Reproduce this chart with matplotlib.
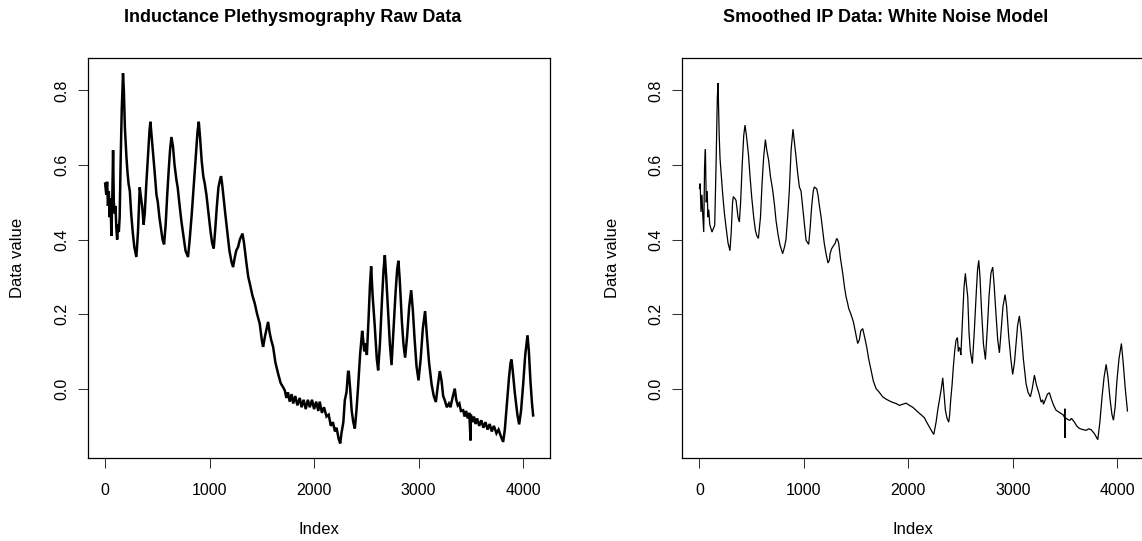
import numpy as np
import matplotlib
matplotlib.use('Agg')
from matplotlib import pyplot as plt

# Values (index, data value)

raw_index = [1, 12, 20, 28, 36, 44, 52, 61, 70, 77, 84, 92, 100, 108, 116, 124, 132, 140, 150, 160,
             172, 180, 190, 205, 215, 225, 237, 250, 265, 280, 300, 315, 332, 345, 355, 369, 380, 395,
             410, 425, 434, 445, 460, 475, 492, 505, 520, 535, 550, 565, 580, 595, 610, 622, 635, 650,
             665, 683, 695, 710, 730, 750, 770, 794, 810, 830, 850, 870, 885, 897, 910, 925, 940, 954,
             970, 990, 1010, 1025, 1040, 1055, 1070, 1085, 1100, 1110, 1120, 1135, 1150, 1170, 1190,
             1210, 1225, 1240, 1255, 1273, 1290, 1305, 1315, 1330, 1353, 1370, 1385, 1410, 1433, 1455,
             1480, 1500, 1512, 1530, 1545, 1560, 1575, 1590, 1608, 1630, 1656, 1680, 1703, 1720, 1735,
             1750, 1767, 1785, 1800, 1820, 1840, 1863, 1880, 1900, 1920, 1940, 1959, 1980, 2000, 2020,
             2040, 2054, 2075, 2095, 2119, 2140, 2160, 2180, 2200, 2215, 2235, 2250, 2262, 2280, 2294,
             2310, 2325, 2332, 2345, 2360, 2375, 2390, 2405, 2420, 2440, 2460, 2470, 2480, 2495, 2505,
             2520, 2535, 2546, 2560, 2580, 2600, 2613, 2630, 2650, 2665, 2677, 2690, 2710, 2725, 2741,
             2760, 2780, 2795, 2807, 2820, 2840, 2855, 2871, 2890, 2910, 2929, 2945, 2960, 2980, 2999,
             3020, 3040, 3062, 3080, 3100, 3125, 3145, 3165, 3185, 3203, 3220, 3235, 3250, 3270, 3290,
             3305, 3320, 3346, 3360, 3375, 3390, 3405, 3426, 3440, 3455, 3470, 3485, 3497, 3500, 3515,
             3530, 3545, 3560, 3580, 3600, 3620, 3640, 3660, 3680, 3700, 3720, 3745, 3765, 3790, 3809,
             3825, 3845, 3865, 3880, 3889, 3900, 3920, 3945, 3962, 3980, 4000, 4020, 4042, 4055, 4070,
             4085, 4096]
raw_value = [0.55, 0.52, 0.555, 0.49, 0.53, 0.46, 0.51, 0.41, 0.52, 0.64, 0.50, 0.47, 0.49, 0.43, 0.40,
             0.44, 0.42, 0.46, 0.62, 0.75, 0.846, 0.80, 0.70, 0.62, 0.58, 0.55, 0.53, 0.47, 0.42, 0.38,
             0.353, 0.42, 0.54, 0.51, 0.49, 0.44, 0.47, 0.55, 0.62, 0.69, 0.716, 0.68, 0.63, 0.58, 0.52,
             0.50, 0.46, 0.43, 0.40, 0.387, 0.44, 0.52, 0.59, 0.64, 0.675, 0.65, 0.60, 0.56, 0.54, 0.50,
             0.45, 0.41, 0.37, 0.353, 0.40, 0.47, 0.55, 0.63, 0.69, 0.716, 0.67, 0.61, 0.57, 0.55, 0.52,
             0.47, 0.42, 0.39, 0.376, 0.43, 0.49, 0.54, 0.56, 0.57, 0.55, 0.51, 0.47, 0.42, 0.37, 0.34,
             0.326, 0.35, 0.37, 0.38, 0.40, 0.41, 0.416, 0.39, 0.336, 0.30, 0.282, 0.25, 0.228, 0.20,
             0.174, 0.13, 0.112, 0.14, 0.16, 0.179, 0.15, 0.13, 0.112, 0.07, 0.04, 0.015, 0.004, -0.005,
             -0.025, -0.01, -0.035, -0.015, -0.04, -0.02, -0.045, -0.025, -0.05, -0.03, -0.055, -0.03,
             -0.05, -0.03, -0.055, -0.035, -0.06, -0.035, -0.065, -0.05, -0.075, -0.07, -0.10, -0.09,
             -0.115, -0.105, -0.135, -0.147, -0.12, -0.09, -0.031, -0.01, 0.045, 0.045, 0.0, -0.06,
             -0.09, -0.107, -0.06, 0.0, 0.09, 0.155, 0.13, 0.10, 0.121, 0.09, 0.18, 0.28, 0.328, 0.25,
             0.17, 0.08, 0.049, 0.12, 0.24, 0.32, 0.358, 0.30, 0.20, 0.12, 0.063, 0.16, 0.26, 0.32,
             0.343, 0.29, 0.18, 0.12, 0.083, 0.14, 0.22, 0.264, 0.21, 0.14, 0.06, 0.022, 0.08, 0.16,
             0.208, 0.14, 0.07, 0.01, -0.02, -0.036, 0.01, 0.047, 0.02, -0.02, -0.031, -0.05, -0.04,
             -0.05, -0.03, 0.0, -0.03, -0.045, -0.04, -0.06, -0.058, -0.075, -0.06, -0.08, -0.065,
             -0.139, -0.07, -0.09, -0.075, -0.095, -0.08, -0.10, -0.085, -0.105, -0.09, -0.11, -0.095,
             -0.115, -0.10, -0.12, -0.11, -0.13, -0.143, -0.11, -0.04, 0.03, 0.07, 0.078, 0.05, -0.01,
             -0.07, -0.096, -0.06, 0.01, 0.09, 0.143, 0.10, 0.02, -0.04, -0.072]

smooth_index = [1, 8, 16, 25, 32, 42, 50, 58, 66, 75, 82, 90, 100, 121, 135, 147, 160, 172, 179, 190,
                198, 210, 223, 240, 255, 275, 293, 305, 318, 325, 340, 351, 370, 383, 395, 410, 425,
                437, 450, 469, 485, 501, 520, 536, 550, 565, 585, 600, 615, 632, 645, 663, 680, 702,
                720, 734, 755, 772, 797, 815, 829, 845, 861, 878, 896, 910, 925, 940, 957, 973, 995,
                1010, 1021, 1046, 1060, 1075, 1090, 1100, 1123, 1135, 1148, 1165, 1180, 1195, 1212,
                1231, 1245, 1251, 1265, 1276, 1300, 1314, 1325, 1333, 1350, 1372, 1390, 1404, 1418,
                1429, 1450, 1474, 1495, 1515, 1530, 1545, 1563, 1580, 1601, 1620, 1643, 1665, 1691,
                1722, 1754, 1785, 1818, 1850, 1882, 1914, 1945, 1978, 2010, 2042, 2080, 2121, 2153,
                2175, 2201, 2225, 2243, 2265, 2285, 2297, 2315, 2329, 2340, 2354, 2370, 2386, 2395,
                2405, 2418, 2430, 2443, 2456, 2469, 2478, 2486, 2494, 2502, 2512, 2520, 2532, 2545,
                2555, 2568, 2580, 2593, 2612, 2630, 2650, 2662, 2673, 2685, 2700, 2718, 2737, 2755,
                2772, 2790, 2807, 2820, 2838, 2855, 2871, 2888, 2905, 2925, 2940, 2960, 2980, 2998,
                3015, 3030, 3045, 3062, 3080, 3100, 3126, 3145, 3167, 3185, 3206, 3225, 3250, 3270,
                3285, 3292, 3310, 3330, 3349, 3370, 3390, 3413, 3440, 3461, 3480, 3495, 3497, 3499,
                3501, 3525, 3545, 3560, 3589, 3610, 3636, 3670, 3700, 3725, 3748, 3780, 3812, 3832,
                3853, 3872, 3892, 3910, 3930, 3948, 3962, 3978, 3995, 4015, 4038, 4055, 4075, 4096]
smooth_value = [0.537, 0.55, 0.474, 0.52, 0.47, 0.42, 0.595, 0.642, 0.50, 0.53, 0.46, 0.48, 0.44,
                0.42, 0.43, 0.438, 0.60, 0.78, 0.82, 0.68, 0.617, 0.57, 0.523, 0.47, 0.434, 0.39,
                0.37, 0.42, 0.50, 0.515, 0.51, 0.505, 0.46, 0.447, 0.50, 0.60, 0.68, 0.707, 0.68,
                0.631, 0.57, 0.514, 0.46, 0.425, 0.41, 0.403, 0.46, 0.55, 0.62, 0.668, 0.64, 0.613,
                0.57, 0.532, 0.49, 0.45, 0.41, 0.385, 0.362, 0.38, 0.40, 0.46, 0.532, 0.64, 0.696,
                0.66, 0.622, 0.58, 0.541, 0.53, 0.469, 0.43, 0.398, 0.387, 0.43, 0.49, 0.53, 0.541,
                0.536, 0.52, 0.492, 0.46, 0.425, 0.39, 0.362, 0.337, 0.345, 0.362, 0.375, 0.38,
                0.39, 0.403, 0.398, 0.39, 0.35, 0.309, 0.27, 0.246, 0.23, 0.215, 0.20, 0.179, 0.15,
                0.121, 0.13, 0.155, 0.161, 0.14, 0.112, 0.08, 0.049, 0.02, 0.0, -0.01, -0.022,
                -0.028, -0.033, -0.037, -0.04, -0.045, -0.042, -0.039, -0.045, -0.05, -0.06, -0.07,
                -0.078, -0.09, -0.103, -0.115, -0.123, -0.09, -0.05, -0.031, 0.0, 0.029, -0.01,
                -0.058, -0.08, -0.09, -0.07, -0.03, 0.01, 0.058, 0.10, 0.13, 0.137, 0.10, 0.11,
                0.107, 0.09, 0.15, 0.201, 0.27, 0.309, 0.28, 0.246, 0.15, 0.10, 0.067, 0.15, 0.26,
                0.32, 0.344, 0.30, 0.21, 0.12, 0.078, 0.16, 0.25, 0.31, 0.326, 0.28, 0.20, 0.13,
                0.096, 0.16, 0.22, 0.252, 0.22, 0.14, 0.08, 0.038, 0.07, 0.12, 0.17, 0.195, 0.15,
                0.08, 0.013, -0.01, -0.022, 0.0, 0.036, 0.01, -0.013, -0.036, -0.03, -0.042, -0.03,
                -0.015, -0.011, -0.03, -0.045, -0.058, -0.063, -0.067, -0.07, -0.078, -0.054, -0.132,
                -0.078, -0.083, -0.085, -0.08, -0.09, -0.10, -0.107, -0.11, -0.112, -0.108, -0.11,
                -0.121, -0.137, -0.09, -0.022, 0.03, 0.065, 0.03, -0.03, -0.07, -0.085, -0.05, 0.02,
                0.08, 0.121, 0.07, 0.0, -0.06]

x_ticks = [0, 1000, 2000, 3000, 4000]
y_ticks = [0.0, 0.2, 0.4, 0.6, 0.8]

plt.rcParams['font.family'] = ['Liberation Sans', 'DejaVu Sans']

fig = plt.figure(figsize=(11.42, 5.41), dpi=100)
W, H = 1142.0, 541.0

panels = [
    (88.0, raw_index, raw_value, 1.8, 'Inductance Plethysmography Raw Data', 292.6),
    (682.3, smooth_index, smooth_value, 0.9, 'Smoothed IP Data: White Noise Model', 885.5),
]

for left, xs, ys, lw, title, tx in panels:
    ax = fig.add_axes([left / W, 1 - 458.3 / H, 462.3 / W, 400.3 / H])
    ax.plot(xs, ys, color='black', linewidth=lw, solid_joinstyle='miter')
    ax.set_xlim(-163, 4260)
    ax.set_ylim(-0.187, 0.887)
    ax.set_xticks(x_ticks)
    ax.set_xticklabels([str(t) for t in x_ticks])
    ax.set_yticks(y_ticks)
    ax.set_yticklabels(['%.1f' % t for t in y_ticks], rotation=90, va='center')
    ax.tick_params(direction='out', length=7, width=0.75, labelsize=11.5, color='#333333')
    ax.tick_params(axis='x', pad=11)
    ax.tick_params(axis='y', pad=6.5)
    for s in ax.spines.values():
        s.set_linewidth(0.9)
    fig.text(tx / W, 1 - 17.5 / H, title, ha='center', va='center',
             fontsize=13, fontweight='bold')
    fig.text((left + 231.0) / W, 1 - 530 / H, 'Index', ha='center', va='center', fontsize=12)
    fig.text((left - 70) / W, 1 - 258 / H, 'Data value', ha='center', va='center',
             rotation=90, fontsize=12)

fig.savefig('out.png', dpi=100)
